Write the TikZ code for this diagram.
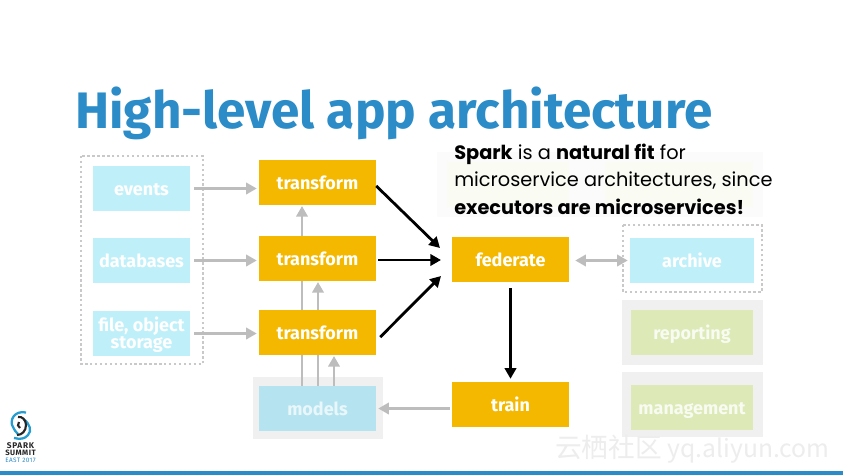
\documentclass[tikz,border=0pt]{standalone}
\usepackage{fontspec}
\setmainfont{Fira Sans}
\newfontfamily\cjkfont{Noto Sans CJK SC}
\newfontfamily\notefont{Poppins}
\definecolor{gold}{HTML}{F4B800}
\definecolor{skyb}{HTML}{BFF0FA}
\definecolor{skyd}{HTML}{B5E4F0}
\definecolor{sage}{HTML}{DDE9B7}
\definecolor{paneg}{HTML}{F0F0F0}
\definecolor{arrowg}{HTML}{BDBDBD}
\definecolor{dotg}{HTML}{C9C9C9}
\definecolor{titleb}{HTML}{2B8CC8}
\usetikzlibrary{arrows.meta}
\tikzset{
 x=0.75pt,y=-0.75pt,
 boxplain/.style={minimum width=87.75pt,minimum height=33.75pt,inner sep=0pt,align=center,text=white,font=\fontsize{13.5pt}{12.5pt}\selectfont\bfseries},
 boxbase/.style={boxplain,text height=10.8pt,text depth=0pt},
 goldbox/.style={boxbase,fill=gold},
 bluebox/.style={boxbase,fill=skyb,minimum width=72.75pt},
 arch/.style={boxbase,fill=skyb,minimum width=93pt},
 greenbox/.style={boxbase,fill=sage,text=white!80!sage,minimum width=91.5pt},
 panel/.style={fill=paneg,draw=none},
 dotbox/.style={draw=dotg,line width=1.8pt,dash pattern=on 1.8pt off 1.9pt},
 garrow/.style={draw=arrowg,line width=2.2pt,-{Triangle[length=8pt,width=8.5pt]}},
 garrow2/.style={draw=arrowg,line width=2pt,{Triangle[length=8pt,width=8.5pt]}-{Triangle[length=8pt,width=8.5pt]}},
 barrow/.style={draw=black,line width=2.1pt,-{Triangle[length=8pt,width=8.5pt]}},
 notetxt/.style={anchor=base west,inner sep=0pt,font=\fontsize{14.5pt}{14pt}\notefont},
 logoblue/.style={draw=titleb!85!cyan,line width=1.7pt},
 logoblack/.style={draw=black!85,line width=1.6pt},
}
\begin{document}
\begin{tikzpicture}
\useasboundingbox (0,0) rectangle (843,475);
\fill[white] (0,0) rectangle (843,475);
\fill[titleb] (0,471) rectangle (843,475);
\node[anchor=base west,inner sep=0pt,text=titleb,font=\fontsize{38.45pt}{40pt}\selectfont\bfseries] (title) at (75,128.5) {High-level app architecture};
% panels
\fill[panel] (622,300) rectangle (763,365);
\fill[panel] (622,372) rectangle (763,437);
\fill[panel] (253,377) rectangle (383,439);
\fill[black!1.5] (437,152) rectangle (763,217);
\fill[sage!15] (447,162) rectangle (569,207);
\fill[sage!15] (605,162) rectangle (753,207);
\draw[dotbox] (81,156) rectangle (203,364);
\draw[dotbox] (623,225) rectangle (762,292);
% boxes
\node[bluebox] (ev) at (141.5,188.5) {events};
\node[bluebox] (db) at (141.5,260.5) {databases};
\node[boxplain,fill=skyb,minimum width=72.75pt] (fs) at (141.5,333.5) {\rule{0pt}{13pt}file, object\\storage};
\node[arch] (ar) at (692,260.5) {archive};
\node[greenbox] (re) at (692,332.5) {reporting};
\node[greenbox] (ma) at (692,407.5) {management};
\node[boxbase,fill=skyd,text=white!70!skyd] (mo) at (317.5,408.5) {models};
% grey arrows behind transforms
\coordinate (ua) at (302,386);
\coordinate (ub) at (318,386);
\coordinate (uc) at (334,386);
\coordinate (ta) at (302,206);
\coordinate (tb) at (318,282);
\coordinate (tc) at (334,356);
\draw[garrow] (ua) -- (ta);
\draw[garrow] (ub) -- (tb);
\draw[garrow] (uc) -- (tc);
% transforms
\node[goldbox] (t1) at (317.5,182.5) {transform};
\node[goldbox] (t2) at (317.5,258.5) {transform};
\node[goldbox] (t3) at (317.5,332.5) {transform};
\node[goldbox] (fe) at (510.5,259.5) {federate};
\node[goldbox] (tr) at (510.5,404.5) {train};
% connectors
\draw[garrow,shorten <=3pt,shorten >=1.5pt] (ev.east) -- (ev.east -| t1.west);
\draw[garrow,shorten <=3pt,shorten >=1.5pt] (db.east) -- (db.east -| t2.west);
\draw[garrow,shorten <=3pt,shorten >=1.5pt] (fs.east) -- (fs.east -| t3.west);
\coordinate (fa) at (440,248);
\coordinate (fb) at (441,260);
\coordinate (fc) at (441,276);
\draw[barrow] ([yshift=-2.6pt]t1.east) -- (fa);
\draw[barrow,shorten <=1.5pt] (t2.east |- fb) -- (fb);
\draw[barrow] ([xshift=3pt,yshift=-3.4pt]t3.east) -- (fc);
\draw[barrow,shorten <=4.5pt,shorten >=2.2pt] (fe.south) -- (tr.north);
\draw[garrow,shorten <=1.5pt,shorten >=1.5pt] (tr.west |- mo.east) -- (mo.east);
\draw[garrow2,shorten <=4.5pt,shorten >=1.5pt] (fe.east |- ar.west) -- (ar.west);
% note
\node[notetxt] (n1) at (454,159) {\textbf{Spark} is a \textbf{natural fit} for};
\node[notetxt] (n2) at (454,186) {microservice architectures, since};
\node[notetxt] (n3) at (454,214) {\textbf{executors are microservices!}};
% logo
\draw[logoblue] (26,412.5) .. controls (14,410) and (9,421) .. (13,427) .. controls (14,430) and (16,432) .. (18,434);
\draw[logoblue] (24,419.5) .. controls (30,424) and (32,431) .. (28,435) .. controls (25,439) and (20,439.5) .. (14,438);
\draw[logoblack] (18,417) .. controls (22,416) and (26,420) .. (26,425) .. controls (26,431) and (22,435) .. (17,435);
\draw[logoblack] (19,422) .. controls (17,424) and (18,427) .. (20,428);
\node[inner sep=0pt,font=\fontsize{6.2pt}{6pt}\selectfont\bfseries\addfontfeature{LetterSpace=8},text=black!85] (l1) at (20.5,445.5) {SPARK};
\node[inner sep=0pt,font=\fontsize{5.8pt}{6pt}\selectfont\bfseries\addfontfeature{LetterSpace=6},text=black!85] (l2) at (20.5,453) {SUMMIT};
\node[inner sep=0pt,font=\fontsize{4.8pt}{5pt}\selectfont\addfontfeature{LetterSpace=6},text=titleb] (l3) at (20.5,460.5) {EAST 2017};
% watermark
\node[anchor=base west,inner sep=0pt,text=black!7,font=\fontsize{20pt}{20pt}\cjkfont] (wm) at (555,457) {云栖社区 {\fontsize{18.5pt}{20pt}\selectfont yq.aliyun.com}};
\end{tikzpicture}
\end{document}
